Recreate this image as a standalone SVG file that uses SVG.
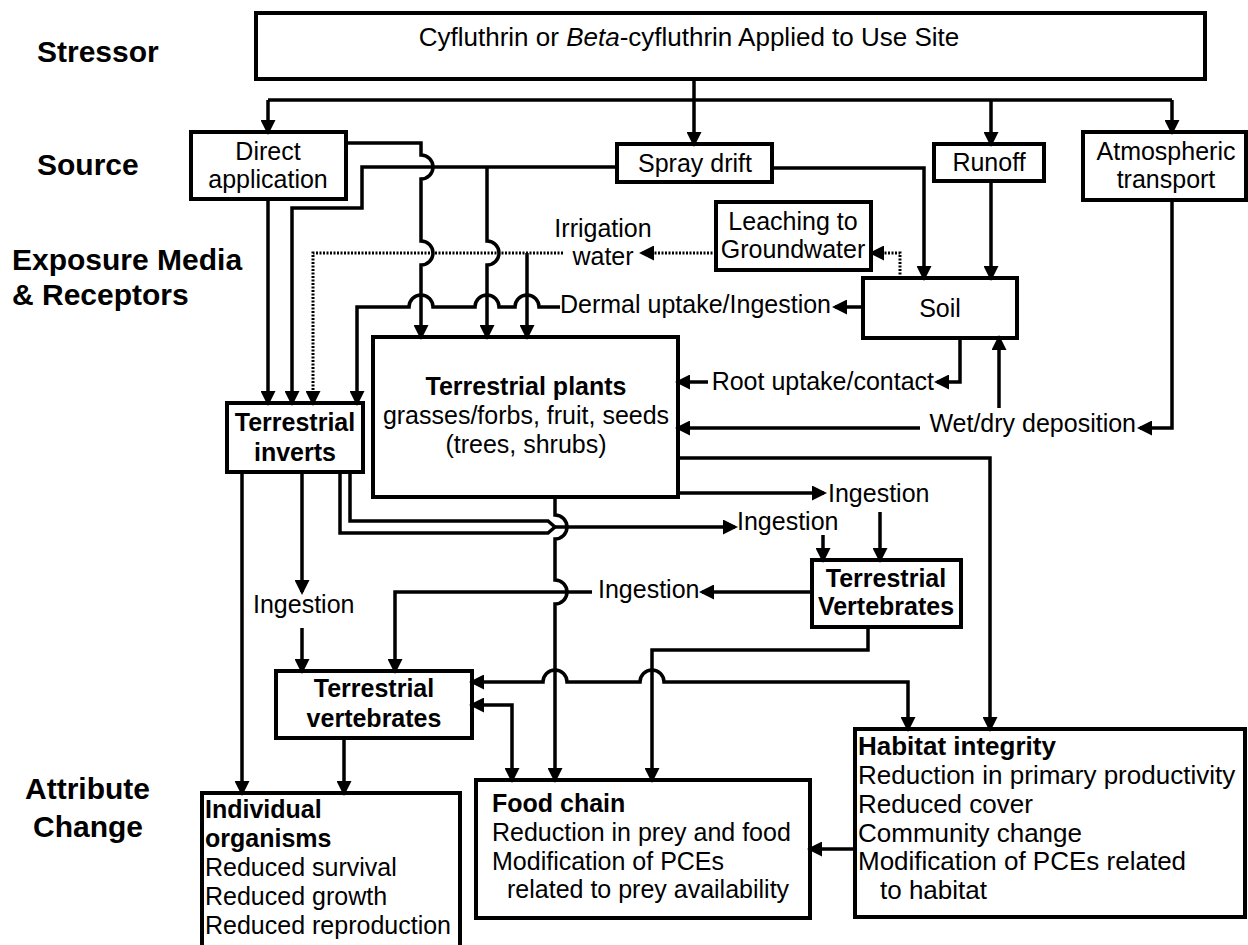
<svg xmlns="http://www.w3.org/2000/svg" width="1248" height="945" viewBox="0 0 1248 945">
<style>
.box{fill:#fff;stroke:#000;stroke-width:4}
.ln{fill:none;stroke:#000;stroke-width:3.5}
.dot{fill:none;stroke:#000;stroke-width:3;stroke-dasharray:2 1.5}
text{font-family:"Liberation Sans",Arial,Helvetica,sans-serif;font-size:25px;fill:#000}
.c{text-anchor:middle}
.e{text-anchor:end}
.b{font-weight:bold}
.big{font-size:26px}
.lab{font-size:30px;font-weight:bold}
</style>
<defs>
<marker id="ah" viewBox="0 0 15 15" markerWidth="15" markerHeight="15" refX="12" refY="7.5" orient="auto-start-reverse" markerUnits="userSpaceOnUse"><path d="M0,0 L15,7.5 L0,15 z" fill="#000"/></marker>
</defs>
<rect width="1248" height="945" fill="#fff"/>

<g id="labels">
<text class="lab" x="37" y="62">Stressor</text>
<text class="lab" x="37" y="175">Source</text>
<text class="lab" x="12" y="270">Exposure Media</text>
<text class="lab" x="12" y="305">&amp; Receptors</text>
<text class="lab" x="25" y="799">Attribute</text>
<text class="lab" x="33" y="837">Change</text>
</g>

<g id="stressor"><rect class="box" x="256" y="13" width="949" height="66"/>
<text class="c big" x="689" y="46">Cyfluthrin or <tspan font-style="italic">Beta</tspan>-cyfluthrin Applied to Use Site</text></g>
<g id="direct"><rect class="box" x="191" y="132" width="155" height="67"/>
<text class="c" x="268" y="160">Direct</text><text class="c" x="268" y="188">application</text></g>
<g id="spray"><rect class="box" x="617" y="144" width="155" height="38"/>
<text class="c" x="695" y="172">Spray drift</text></g>
<g id="runoff"><rect class="box" x="934" y="144" width="110" height="37"/>
<text class="c" x="989" y="171">Runoff</text></g>
<g id="atmos"><rect class="box" x="1083" y="132" width="163" height="68"/>
<text class="c" x="1166" y="160">Atmospheric</text><text class="c" x="1166" y="188">transport</text></g>
<g id="leaching"><rect class="box" x="716" y="202" width="155" height="68"/>
<text class="c" x="793" y="230">Leaching to</text><text class="c" x="793" y="258">Groundwater</text></g>
<g id="irrigation"><text class="c" x="603" y="237">Irrigation</text><text class="c" x="603" y="265">water</text></g>
<g id="soil"><rect class="box" x="863" y="278" width="154" height="60"/>
<text class="c" x="940" y="317">Soil</text></g>
<g id="plants"><rect class="box" x="373" y="337" width="305" height="160"/>
<text class="c b" x="526" y="395">Terrestrial plants</text>
<text class="c" x="526" y="424">grasses/forbs, fruit, seeds</text>
<text class="c" x="526" y="453">(trees, shrubs)</text></g>
<g id="inverts"><rect class="box" x="227" y="403" width="136" height="69"/>
<text class="c b" x="295" y="431">Terrestrial</text><text class="c b" x="295" y="461">inverts</text></g>
<g id="vertup"><rect class="box" x="812" y="560" width="149" height="67"/>
<text class="c b" x="886" y="587">Terrestrial</text><text class="c b" x="886" y="615">Vertebrates</text></g>
<g id="vertlow"><rect class="box" x="276" y="671" width="196" height="67"/>
<text class="c b" x="374" y="697">Terrestrial</text><text class="c b" x="374" y="727">vertebrates</text></g>
<g id="individual"><rect class="box" x="202" y="793" width="258" height="160"/>
<text class="b" x="205" y="818">Individual</text><text class="b" x="205" y="847">organisms</text>
<text x="205" y="876">Reduced survival</text><text x="205" y="905">Reduced growth</text><text x="205" y="934">Reduced reproduction</text></g>
<g id="foodchain"><rect class="box" x="476" y="780" width="334" height="138"/>
<text class="b" x="492" y="812">Food chain</text>
<text x="492" y="841">Reduction in prey and food</text>
<text x="492" y="870">Modification of PCEs</text>
<text x="507" y="898">related to prey availability</text></g>
<g id="habitat"><rect class="box" x="855" y="729" width="390" height="188"/>
<text class="b big" x="858" y="755">Habitat integrity</text>
<text class="big" x="858" y="784">Reduction in primary productivity</text>
<text class="big" x="858" y="813">Reduced cover</text>
<text class="big" x="858" y="842">Community change</text>
<text class="big" x="858" y="870">Modification of PCEs related</text>
<text class="big" x="880" y="899">to habitat</text></g>

<g id="edge-labels">
<text class="e" x="831" y="313">Dermal uptake/Ingestion</text>
<text class="e" x="934" y="390">Root uptake/contact</text>
<text class="e" x="1136" y="432">Wet/dry deposition</text>
<text x="828" y="502">Ingestion</text>
<text x="737" y="530">Ingestion</text>
<text x="598" y="598">Ingestion</text>
<text x="253" y="613">Ingestion</text>
</g>

<g id="connectors">
<path class="ln" d="M268,100 H1172"/>
<path class="ln" marker-end="url(#ah)" d="M268,100 V132"/>
<path class="ln" marker-end="url(#ah)" d="M694,79 V144"/>
<path class="ln" marker-end="url(#ah)" d="M991,100 V144"/>
<path class="ln" marker-end="url(#ah)" d="M1172,100 V132"/>
<path class="ln" marker-end="url(#ah)" d="M346,143 H421 V155 A12,12 0 0 1 421,179 V241 A12,12 0 0 1 421,265 V337"/>
<path class="ln" marker-end="url(#ah)" d="M268,199 V403"/>
<path class="ln" marker-end="url(#ah)" d="M617,167 H362 V208 H292 V403"/>
<path class="ln" marker-end="url(#ah)" d="M487,167 V241 A12,12 0 0 1 487,265 V337"/>
<path class="ln" marker-end="url(#ah)" d="M772,168 H924 V278"/>
<path class="ln" marker-end="url(#ah)" d="M991,181 V278"/>
<path class="ln" marker-end="url(#ah)" d="M1172,200 V428 H1140"/>
<path class="ln" marker-end="url(#ah)" d="M960,338 V382 H937"/>
<path class="ln" marker-end="url(#ah)" d="M708,382 H678"/>
<path class="ln" marker-end="url(#ah)" d="M999,408 V338"/>
<path class="ln" marker-end="url(#ah)" d="M920,428 H678"/>
<path class="ln" marker-end="url(#ah)" d="M863,307 H835"/>
<path class="ln" marker-end="url(#ah)" d="M560,307 H539 A12,12 0 0 0 515,307 H499 A12,12 0 0 0 475,307 H433 A12,12 0 0 0 409,307 H357 V403"/>
<path class="dot" marker-end="url(#ah)" d="M563,253 H313 V403"/>
<path class="ln" marker-end="url(#ah)" d="M527,253 V337"/>
<path class="dot" marker-end="url(#ah)" d="M716,253 H642"/>
<path class="dot" marker-end="url(#ah)" d="M900,278 V253 H872"/>
<path class="ln" marker-end="url(#ah)" d="M242,472 V793"/>
<path class="ln" marker-end="url(#ah)" d="M302,472 V592"/>
<path class="ln" marker-end="url(#ah)" d="M302,628 V671"/>
<path class="ln" d="M340,472 V533 H548 L555,527"/>
<path class="ln" d="M350,472 V521 H548 L555,527"/>
<path class="ln" marker-end="url(#ah)" d="M555,527 H735"/>
<path class="ln" marker-end="url(#ah)" d="M555,497 V515 A12,12 0 0 1 555,539 V580 A12,12 0 0 1 555,604 V780"/>
<path class="ln" marker-end="url(#ah)" d="M678,458 H990 V729"/>
<path class="ln" marker-end="url(#ah)" d="M678,493 H824"/>
<path class="ln" marker-end="url(#ah)" d="M880,512 V560"/>
<path class="ln" marker-end="url(#ah)" d="M823,535 V560"/>
<path class="ln" marker-end="url(#ah)" d="M812,592 H702"/>
<path class="ln" marker-end="url(#ah)" d="M592,592 H395 V671"/>
<path class="ln" marker-end="url(#ah)" d="M868,627 V650 H652 V780"/>
<path class="ln" marker-start="url(#ah)" marker-end="url(#ah)" d="M908,729 V682 H664 A12,12 0 0 0 640,682 H567 A12,12 0 0 0 543,682 H472"/>
<path class="ln" marker-start="url(#ah)" marker-end="url(#ah)" d="M512,780 V705 H472"/>
<path class="ln" marker-end="url(#ah)" d="M344,738 V793"/>
<path class="ln" marker-end="url(#ah)" d="M855,849 H810"/>
</g>
</svg>
